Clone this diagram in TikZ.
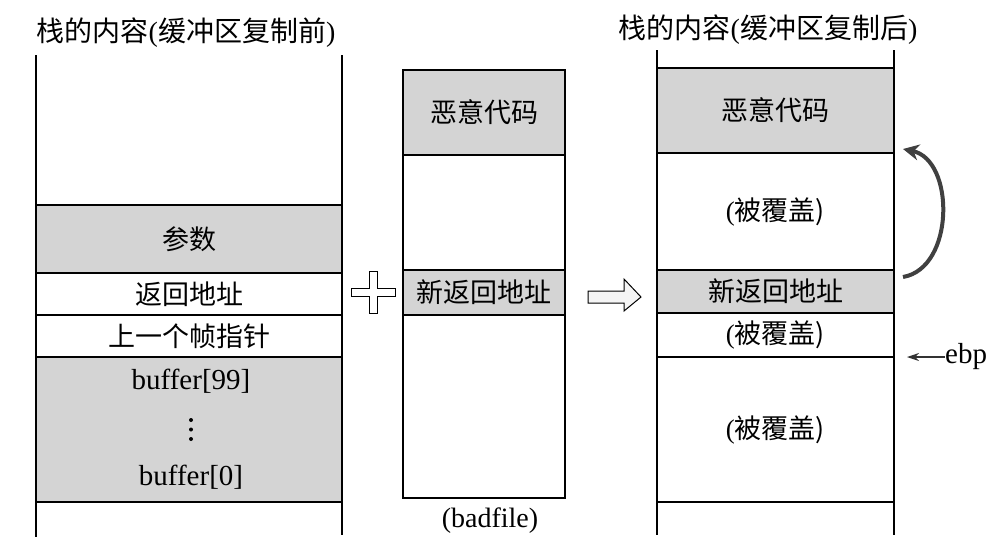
\documentclass[tikz,border=0pt]{standalone}
\usepackage{fontspec}
\setmainfont{Liberation Serif}
\newfontfamily\cjk{Noto Sans CJK SC}
\usetikzlibrary{arrows.meta}
\tikzset{
  cell/.style={draw=black, line width=1.4pt, inner sep=0pt, font=\fontsize{27}{29}\selectfont},
  grayc/.style={cell, fill=black!17},
  side/.style={line width=1.6pt},
  ttl/.style={font=\fontsize{28}{30}\selectfont, inner sep=0pt},
  lat/.style={font=\fontsize{29}{31}\selectfont, inner sep=0pt},
}
\begin{document}
\begin{tikzpicture}[x=1pt,y=-1pt]
\useasboundingbox (0,0) rectangle (990,558);
% titles
\node[ttl] (t1) at (186,33) {{\cjk 栈的内容}({\cjk 缓冲区复制前})};
\node[ttl] (t2) at (768,30) {{\cjk 栈的内容}({\cjk 缓冲区复制后})};
% left stack
\coordinate (l1) at (36,55); \coordinate (l2) at (36,537);
\coordinate (r1) at (342,55); \coordinate (r2) at (342,535);
\draw[side] (l1) -- (l2); \draw[side] (r1) -- (r2);
\node[grayc, minimum width=306, minimum height=68] (lp) at (189,239) {\cjk 参数};
\node[cell, minimum width=306, minimum height=42] (lr) at (189,294) {\cjk 返回地址};
\node[cell, minimum width=306, minimum height=42] (lf) at (189,336) {\cjk 上一个帧指针};
\node[grayc, minimum width=306, minimum height=145] (lb) at (189,429.5) {};
\node[lat] (b99) at (191,381) {buffer[99]};
\fill (191,420) circle (2) (191,429.5) circle (2) (191,439) circle (2);
\node[lat] (b0) at (191,477) {buffer[0]};
% plus sign
\draw[line width=1pt, fill=white] (369,271) -- (377,271) -- (377,288) -- (395,288) -- (395,296) -- (377,296) -- (377,313) -- (369,313) -- (369,296) -- (351,296) -- (351,288) -- (369,288) -- cycle;
% middle box
\node[grayc, minimum width=162, minimum height=85] (mm) at (484,112.5) {\cjk 恶意代码};
\node[cell, minimum width=162, minimum height=115] (mb1) at (484,212.5) {};
\node[grayc, minimum width=162, minimum height=45] (mn) at (484,292.5) {\cjk 新返回地址};
\node[cell, minimum width=162, minimum height=183] (mb2) at (484,406.5) {};
\node[font=\fontsize{28}{30}\selectfont, inner sep=0pt] (bf) at (490,521) {(badfile)};
% hollow arrow
\draw[line width=1pt, fill=black!4] (588,291) -- (624,291) -- (624,279) -- (641,297) -- (624,311) -- (624,303) -- (588,303) -- cycle;
% right stack
\coordinate (rl1) at (657,50); \coordinate (rl2) at (657,535);
\coordinate (rr1) at (894,50); \coordinate (rr2) at (894,535);
\draw[side] (rl1) -- (rl2); \draw[side] (rr1) -- (rr2);
\node[grayc, minimum width=237, minimum height=85] (rm) at (775.5,110.5) {\cjk 恶意代码};
\node[cell, minimum width=237, minimum height=117] (rc1) at (775.5,211.5) {(\cjk 被覆盖)};
\node[grayc, minimum width=237, minimum height=43] (rn) at (775.5,291.5) {\cjk 新返回地址};
\node[cell, minimum width=237, minimum height=44] (rc2) at (775.5,335) {(\cjk 被覆盖)};
\node[cell, minimum width=237, minimum height=145] (rc3) at (775.5,429.5) {(\cjk 被覆盖)};
% curved arrow
\coordinate (ca1) at (903,277);
\coordinate (ca2) at (903,149);
\draw[line width=4pt, black!75, -{Stealth[length=16pt,width=16pt]}] (ca1) .. controls (955,268) and (955,160) .. (ca2);
% ebp
\node[lat, anchor=west] (ebp) at (945,357) {ebp};
\coordinate (ep) at (907,357);
\draw[line width=1.2pt, black!80, -{Stealth[length=12pt,width=8pt]}] (ebp.west) -- (ep);
\end{tikzpicture}
\end{document}
